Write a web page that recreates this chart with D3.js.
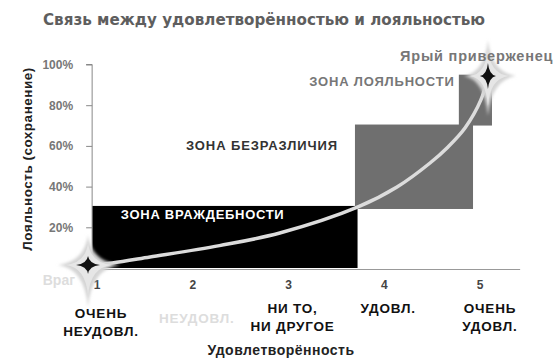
<!DOCTYPE html>
<html>
<head>
<meta charset="utf-8">
<script src="https://cdn.jsdelivr.net/npm/d3@7/dist/d3.min.js"></script>
<style>
  html, body { margin: 0; padding: 0; background: #fff; }
  svg { display: block; font-family: "Liberation Sans", Arial, sans-serif; }
</style>
</head>
<body>
<svg id="chart" width="556" height="358"></svg>
<script>
// Satisfaction levels (x) and their captions
const levels = [1, 2, 3, 4, 5];
const levelCaptions = [
  ["ОЧЕНЬ", "НЕУДОВЛ."],
  ["НЕУДОВЛ."],
  ["НИ ТО,", "НИ ДРУГОЕ"],
  ["УДОВЛ."],
  ["ОЧЕНЬ", "УДОВЛ."]
];
// Loyalty ticks (%)
const loyaltyTicks = [20, 40, 60, 80, 100];

// Zones: satisfaction extent and loyalty extent
const zoneNames = ["ЗОНА ВРАЖДЕБНОСТИ", "ЗОНА БЕЗРАЗЛИЧИЯ", "ЗОНА ЛОЯЛЬНОСТИ"];
const zoneX0 = [0.97, 3.715, 4.80];
const zoneX1 = [3.742, 4.948, 5.146];
const zoneY0 = [0, 29, 70];
const zoneY1 = [30.5, 70.5, 95];

// Satisfaction → loyalty curve
const curveSat = [0.927, 1.18, 1.574, 2.3, 2.93, 3.747, 4.154, 4.499, 4.687, 4.864, 5.03, 5.104];
const curveLoy = [1.5, 2.5, 5.4, 11, 17.2, 30, 39.8, 51.6, 59.5, 68.8, 82.6, 94.3];

const svg = d3.select("#chart");

const x = d3.scaleLinear().domain([1, 5]).range([95, 478]);
const y = d3.scaleLinear().domain([0, 100]).range([268, 64.5]);

// Title
svg.append("text")
  .attr("x", 264).attr("y", 25)
  .attr("text-anchor", "middle")
  .attr("textLength", 442).attr("lengthAdjust", "spacingAndGlyphs")
  .style("font-family", "'Comic Sans MS', 'DejaVu Sans', sans-serif")
  .style("font-weight", "bold")
  .style("font-size", "15px")
  .style("fill", "#5e5e5e")
  .text("Связь между удовлетворённостью и лояльностью");

// Zones
const zoneFill = ["#000", "#6f6f6f", "#6f6f6f"];
svg.append("g").selectAll("rect")
  .data(zoneNames)
  .join("rect")
  .attr("x", (d, i) => x(zoneX0[i]))
  .attr("y", (d, i) => y(zoneY1[i]))
  .attr("width", (d, i) => x(zoneX1[i]) - x(zoneX0[i]))
  .attr("height", (d, i) => y(zoneY0[i]) - y(zoneY1[i]))
  .attr("fill", (d, i) => zoneFill[i]);

// Axes
const xAxisY = 269.5;
svg.append("line")
  .attr("x1", x(0.97)).attr("x2", x(5.44))
  .attr("y1", xAxisY).attr("y2", xAxisY)
  .attr("stroke", "#999").attr("stroke-width", 1.2);

const yAxis = d3.axisLeft(y).tickValues(loyaltyTicks).tickSize(6).tickFormat(d => d + "%");
const yg = svg.append("g")
  .attr("transform", `translate(${x(0.97)},0)`)
  .call(yAxis);
yg.select(".domain").attr("stroke", "#888").attr("d", `M-6,${y(100)}H0V${xAxisY}`);
yg.selectAll(".tick line").attr("stroke", "#888");
yg.selectAll(".tick text")
  .attr("x", -19)
  .style("font-size", "12px").style("font-weight", "bold")
  .style("fill", "#777").style("font-family", "'Liberation Sans', Arial, sans-serif");

// Y title
svg.append("text")
  .attr("transform", `translate(32,159) rotate(-90)`)
  .attr("text-anchor", "middle")
  .style("font-size", "13.5px").style("font-weight", "bold").style("fill", "#222")
  .style("letter-spacing", "0.5px")
  .text("Лояльность (сохранение)");

// X tick numbers
svg.append("g").selectAll("text")
  .data(levels)
  .join("text")
  .attr("x", d => x(d) + 2)
  .attr("y", 289)
  .attr("text-anchor", "middle")
  .style("font-size", "12px").style("font-weight", "bold").style("fill", "#444")
  .text(d => d);

// Level captions
const captionFill = ["#111", "#ddd", "#111", "#111", "#111"];
const captionTop = [318, 323, 313, 313, 313];
const cg = svg.append("g");
levels.forEach((lv, i) => {
  const t = cg.append("text")
    .attr("text-anchor", "middle")
    .style("font-size", "13.5px").style("font-weight", "bold")
    .style("letter-spacing", "0.8px")
    .style("fill", captionFill[i]);
  levelCaptions[i].forEach((line, j) => {
    t.append("tspan")
      .attr("x", x(lv) + (i === 4 ? 12 : 6))
      .attr("y", captionTop[i] + j * 18)
      .text(line);
  });
});

// X title
svg.append("text")
  .attr("x", 281).attr("y", 355)
  .attr("text-anchor", "middle")
  .style("font-size", "14px").style("font-weight", "bold").style("fill", "#222")
  .style("letter-spacing", "0.5px")
  .text("Удовлетворённость");

// Zone labels
svg.append("text")
  .attr("x", x(1.27)).attr("y", y(24.3))
  .style("font-size", "13px").style("font-weight", "bold").style("fill", "#fff")
  .style("letter-spacing", "0.7px")
  .text(zoneNames[0]);
svg.append("text")
  .attr("x", x(1.95)).attr("y", y(58.2))
  .style("font-size", "13px").style("font-weight", "bold").style("fill", "#333")
  .style("letter-spacing", "0.9px")
  .text(zoneNames[1]);
svg.append("text")
  .attr("x", x(4.755)).attr("y", y(89.3))
  .attr("text-anchor", "end")
  .style("font-size", "13px").style("font-weight", "bold").style("fill", "#777")
  .style("letter-spacing", "0.8px")
  .text(zoneNames[2]);

// Curve
const pts = curveSat.map((s, i) => [x(s), y(curveLoy[i])]);
svg.append("path")
  .attr("d", d3.line().curve(d3.curveCatmullRom.alpha(0.5))(pts))
  .attr("fill", "none")
  .attr("stroke", "#dcdcdc")
  .attr("stroke-width", 3.5)
  .attr("stroke-linecap", "round");

// Stars at both ends of the curve
const defs = svg.append("defs");
defs.append("filter").attr("id", "soft")
  .attr("x", "-50%").attr("y", "-50%").attr("width", "200%").attr("height", "200%")
  .append("feGaussianBlur").attr("stdDeviation", 1.5);

function starPath(cx, cy, up, right, down, left, w) {
  return `M${cx},${cy - up}` +
    `Q${cx + w},${cy - w} ${cx + right},${cy}` +
    `Q${cx + w},${cy + w} ${cx},${cy + down}` +
    `Q${cx - w},${cy + w} ${cx - left},${cy}` +
    `Q${cx - w},${cy - w} ${cx},${cy - up}Z`;
}

function star(p, glow, core) {
  svg.append("path")
    .attr("d", starPath(p[0], p[1], ...glow))
    .attr("fill", "#d4d4d4")
    .attr("filter", "url(#soft)");
  svg.append("path")
    .attr("d", starPath(p[0], p[1], ...glow.slice(0, 4).map(v => v * 0.75), glow[4] * 0.6))
    .attr("fill", "#e6e6e6");
  svg.append("path")
    .attr("d", starPath(p[0], p[1], ...core))
    .attr("fill", "#111");
}

star(pts[0], [30, 32, 42, 30, 3.5], [9, 12, 9, 12, 1.2]);
star(pts[pts.length - 1], [36, 28, 40, 24, 3.5], [13, 8, 13, 8, 1.2]);

// "Enemy" and "Ardent advocate" captions
svg.append("text")
  .attr("x", x(0.927) - 13).attr("y", 285)
  .attr("text-anchor", "end")
  .style("font-size", "14px").style("font-weight", "bold").style("fill", "#ddd")
  .text("Враг");
svg.append("text")
  .attr("x", 400).attr("y", 61)
  .style("font-size", "14.5px").style("font-weight", "bold").style("fill", "#777")
  .style("letter-spacing", "0.8px")
  .text("Ярый приверженец");
</script>
</body>
</html>
